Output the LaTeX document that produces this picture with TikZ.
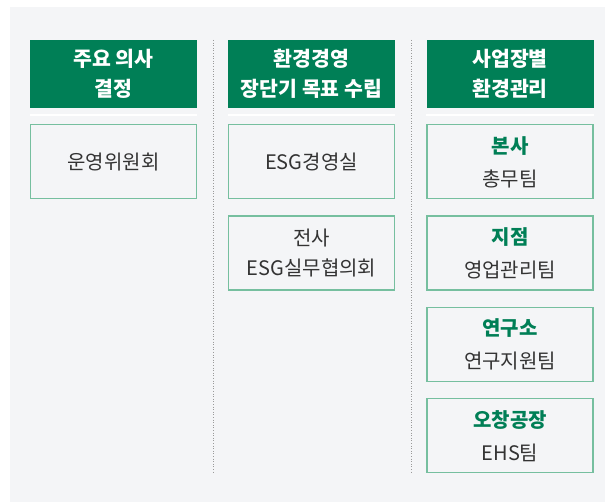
\documentclass[tikz,border=0pt]{standalone}
\usepackage{fontspec}
\setmainfont{Noto Sans CJK KR}
\usepackage{xcolor}
\usetikzlibrary{positioning}

\definecolor{esggreen}{HTML}{007F56}
\definecolor{boxline}{HTML}{76BF9F}
\definecolor{bggray}{HTML}{F4F5F7}
\definecolor{txtgray}{HTML}{333333}
\definecolor{sepgray}{HTML}{9A9A9A}

\tikzset{
    head/.style={fill=esggreen,text=white,font=\fontsize{20.5}{30}\selectfont\bfseries,
        minimum width=167pt,minimum height=68pt,align=center,inner sep=0pt},
    unit/.style={draw=boxline,line width=1.3pt,fill=bggray,text=txtgray,
        font=\fontsize{20}{30}\selectfont,minimum width=166pt,minimum height=74pt,
        align=center,inner sep=0pt},
    sep/.style={sepgray,line width=0.8pt,dash pattern=on 1pt off 1.6pt},
    rule/.style={white,line width=1.4pt}
}
\newcommand{\site}[1]{{\color{esggreen}\bfseries #1}}

\begin{document}
\begin{tikzpicture}[x=1pt,y=-1pt]
        \useasboundingbox (0,0) rectangle (605,502);
        \fill[bggray] (10,7) rectangle (605,502);

        % column headers
        \node[head] (h1) at (113.5,74) {주요 의사\\결정};
        \node[head] (h2) at (311.5,74) {환경경영\\장단기 목표 수립};
        \node[head] (h3) at (510,74) {사업장별\\환경관리};

        \foreach \h in {h1,h2,h3}
            \draw[rule] ([yshift=-7pt]\h.south west) -- ([yshift=-7pt]\h.south east);

        % column separators
        \draw[sep] (213,40) -- (213,473);
        \draw[sep] (411,40) -- (411,473);

        % units
        \node[unit,below=16pt of h1] (u11) {운영위원회};

        \node[unit,below=16pt of h2] (u21) {ESG경영실};
        \node[unit,below=16pt of u21] (u22) {전사\\ESG실무협의회};

        \node[unit,below=16pt of h3] (u31) {\site{본사}\\[3pt]총무팀};
        \node[unit,below=16pt of u31] (u32) {\site{지점}\\[3pt]영업관리팀};
        \node[unit,below=16pt of u32] (u33) {\site{연구소}\\[3pt]연구지원팀};
        \node[unit,below=16pt of u33] (u34) {\site{오창공장}\\[3pt]EHS팀};
    \end{tikzpicture}
\end{document}
